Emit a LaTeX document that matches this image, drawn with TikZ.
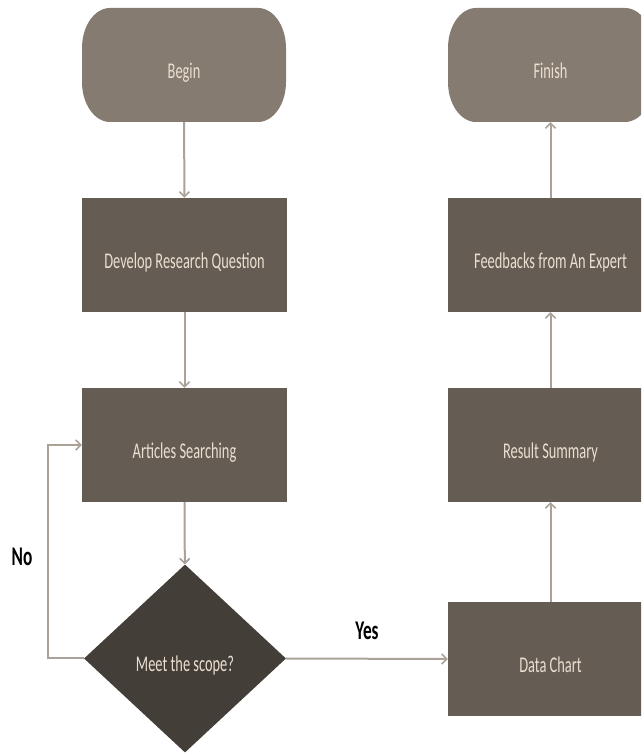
\documentclass[tikz,border=0pt]{standalone}
\usepackage{fontspec}
\setmainfont{Carlito}
\newfontfamily\boxfont{Carlito}[FakeStretch=0.64]
\newfontfamily\lblfont{Carlito}[FakeStretch=0.64]
\usetikzlibrary{arrows.meta,shapes.geometric}
\definecolor{termfill}{HTML}{857B71}
\definecolor{boxfill}{HTML}{655D53}
\definecolor{diafill}{HTML}{443E39}
\definecolor{txt}{HTML}{EADFD0}
\definecolor{arr}{HTML}{AAA298}
\tikzset{
  boxtext/.style={inner sep=0pt, text=txt, text height=31pt, text depth=4pt, font=\boxfont\fontsize{22.5}{27}\selectfont},
  termtext/.style={boxtext, draw=none, minimum width=204pt, minimum height=114pt},
  procbox/.style={boxtext, rectangle, fill=boxfill, minimum width=205pt, minimum height=114pt},
  decbox/.style={boxtext, diamond, fill=diafill, minimum width=202pt, minimum height=188pt},
  flow/.style={draw=arr, line width=2pt, -{Straight Barb[length=5pt,width=10pt,line width=1.6pt]}},
  lbl/.style={font=\lblfont\bfseries\fontsize{27}{32}\selectfont, text=black}
}
\begin{document}
\begin{tikzpicture}[x=1pt,y=1pt]
\useasboundingbox (0,0) rectangle (641,754);
\clip (0,0) rectangle (641,754);
% terminals
\fill[termfill] (110,746) -- (258,746) arc[start angle=90,end angle=0,x radius=28pt,y radius=40pt] -- (286,672) arc[start angle=0,end angle=-90,x radius=28pt,y radius=40pt] -- (110,632) arc[start angle=270,end angle=180,x radius=28pt,y radius=40pt] -- (82,706) arc[start angle=180,end angle=90,x radius=28pt,y radius=40pt] -- cycle;
\fill[termfill] (476,746) -- (625,746) arc[start angle=90,end angle=0,x radius=28pt,y radius=40pt] -- (653,672) arc[start angle=0,end angle=-90,x radius=28pt,y radius=40pt] -- (476,632) arc[start angle=270,end angle=180,x radius=28pt,y radius=40pt] -- (448,706) arc[start angle=180,end angle=90,x radius=28pt,y radius=40pt] -- cycle;
\node[termtext] (begin) at (184,689) {Begin};
\node[termtext, minimum width=205pt] (finish) at (550.5,689) {Finish};
% process boxes
\node[procbox] (develop) at (184.5,499) {Develop Research Question};
\node[procbox] (articles) at (184.5,309) {Articles Searching};
\node[decbox] (meet) at (185,95.5) {Meet the scope?};
\node[procbox] (feedback) at (550.5,499) {Feedbacks from An Expert};
\node[procbox] (result) at (550.5,309) {Result Summary};
\node[procbox] (data) at (550.5,95) {Data Chart};
% connectors
\draw[flow] (begin) -- (develop);
\draw[flow] (develop) -- (articles);
\draw[flow] (articles) -- (meet);
\draw[flow] (meet.east) -- (data.west);
\draw[flow] (data) -- (result);
\draw[flow] (result) -- (feedback);
\draw[flow] (feedback) -- (finish);
\coordinate (loopb) at (48,95.5);
\coordinate (loopt) at (48,309);
\draw[flow] (meet.west) -- (loopb) -- (loopt) -- (articles.west);
% labels
\node[lbl] (no) at (22,197) {No};
\node[lbl] (yes) at (367,123) {Yes};
\end{tikzpicture}
\end{document}
